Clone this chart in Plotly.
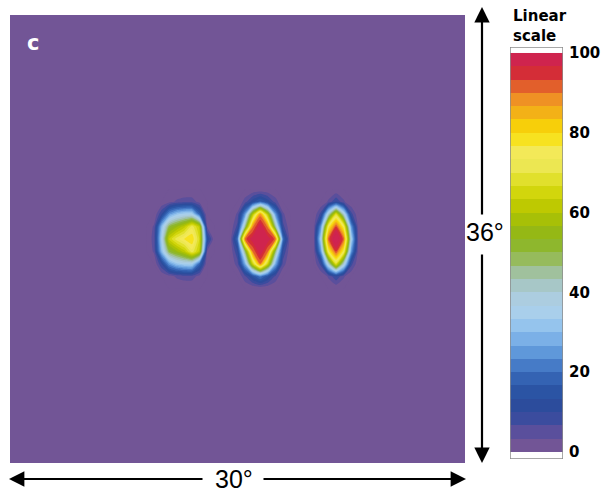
import numpy as np
import plotly.graph_objects as go

# ---------------- data ----------------
# sampling grid (degrees): 30 deg wide, 36 deg tall
x_step = 0.5
y_step = 1.0
x_span = 30
y_span = 36

# response patches (linear scale, 0-100), rows listed top -> bottom
# left stimulus: first column index 19 (x=9.5 deg), top row y=21 deg
left_col0, left_top = 19, 21
left_blob = [
    [0, 0, 2, 4, 5, 5, 2, 0],
    [0, 10, 25, 32, 35, 35, 18, 0],
    [4, 30, 50, 56, 62, 72, 62, 3],
    [5, 35, 64, 72, 77, 80, 66, 14],
    [4, 30, 50, 56, 62, 72, 62, 3],
    [0, 10, 25, 32, 35, 35, 18, 0],
    [0, 0, 2, 4, 5, 5, 2, 0],
]
# middle stimulus: first column index 29 (x=14.5 deg), top row y=22 deg
mid_col0, mid_top = 29, 22
mid_blob = [
    [0, 0, 0, 0, 0, 0, 0, 0, 0],
    [0, 0, 5, 12, 18, 12, 5, 0, 0],
    [0, 4, 25, 60, 88, 60, 25, 4, 0],
    [0, 8, 45, 89, 100, 89, 45, 8, 0],
    [0, 20, 92, 99, 100, 99, 92, 20, 0],
    [0, 10, 48, 90, 100, 90, 48, 10, 0],
    [0, 5, 28, 64, 90, 64, 28, 5, 0],
    [0, 0, 6, 14, 22, 14, 6, 0, 0],
    [0, 0, 0, 0, 0, 0, 0, 0, 0],
]
# right stimulus: first column index 40 (x=20 deg), top row y=22 deg
right_col0, right_top = 40, 22
right_blob = [
    [0, 0, 0, 0, 0, 0, 0],
    [0, 0, 4, 10, 4, 0, 0],
    [0, 8, 40, 68, 40, 8, 0],
    [0, 25, 75, 94, 75, 25, 0],
    [0, 35, 92, 104, 92, 35, 0],
    [0, 25, 75, 94, 75, 25, 0],
    [0, 8, 40, 68, 40, 8, 0],
    [0, 0, 4, 10, 4, 0, 0],
    [0, 0, 0, 0, 0, 0, 0],
]

scale_ticks = [0, 20, 40, 60, 80, 100]
n_bands = 30
level_min, level_max = 0, 100

# colour scale: (value on linear scale, colour)
scale_stops = [
    (0, '#725596'), (2, '#725596'), (5, '#5a4f9c'), (8, '#3d4c9e'),
    (12, '#2a4c9c'), (16, '#2b56a6'), (20, '#3a6cbc'), (24, '#5790d6'),
    (28, '#78aee6'), (32, '#98c6ee'), (36, '#aed2ea'), (40, '#abcad8'),
    (44, '#a2c3b0'), (47, '#9cbe78'), (50, '#8eb83a'), (54, '#8fb51a'),
    (58, '#a5bf08'), (62, '#c0ca00'), (66, '#d8da10'), (70, '#e8e440'),
    (74, '#f2ea6a'), (77, '#f6e634'), (80, '#f8dc08'), (83, '#f6c40c'),
    (86, '#f2a81c'), (89, '#ee8a26'), (92, '#e05a2c'), (94.5, '#d6302e'),
    (96, '#d02648'), (100, '#cf2352'),
]

# ---------------- build ----------------
xs = np.arange(0, x_span + 1e-9, x_step)
ys = np.arange(0, y_span + 1e-9, y_step)
z = np.zeros((len(ys), len(xs)))
for patch, c0, top in [(left_blob, left_col0, left_top),
                       (mid_blob, mid_col0, mid_top),
                       (right_blob, right_col0, right_top)]:
    for r, row in enumerate(patch):
        z[top - r, c0:c0 + len(row)] = row

band = (level_max - level_min) / n_bands
lo = level_min - band / 2
hi = level_max + band / 2
colorscale = [[0.0, scale_stops[0][1]]]
for v, c in scale_stops:
    colorscale.append([(v - lo) / (hi - lo), c])
colorscale.append([1.0, scale_stops[-1][1]])

band_centres = [level_min + band * (i + 0.5) for i in range(n_bands)]

W, H = 607, 493
ml, mr, mt, mb = 10, 40, 15, 30
pw, ph = W - ml - mr, H - mt - mb


def px(xp):
    return (xp - ml) / pw


def py(yp):
    return (H - mb - yp) / ph


fig = go.Figure()
fig.add_trace(go.Contour(
    x=xs, y=ys, z=z,
    autocontour=False,
    contours=dict(start=level_min, end=level_max, size=band,
                  coloring='fill', showlines=False),
    line=dict(width=0, smoothing=0.5),
    colorscale=colorscale, showscale=False,
    xaxis='x', yaxis='y', hoverinfo='skip',
))
fig.add_trace(go.Heatmap(
    x=[0.5], y=band_centres, z=[[v] for v in band_centres],
    zmin=lo, zmax=hi, colorscale=colorscale, showscale=False,
    xaxis='x2', yaxis='y2', hoverinfo='skip',
))

fig.update_layout(
    width=W, height=H, autosize=False,
    margin=dict(l=ml, r=mr, t=mt, b=mb),
    paper_bgcolor='white', plot_bgcolor='white',
    showlegend=False,
    xaxis=dict(domain=[0, 455 / pw], range=[0, x_span], visible=False),
    yaxis=dict(domain=[0, 1], range=[0, y_span], visible=False),
    xaxis2=dict(domain=[px(510), px(563)], range=[0, 1], visible=False,
                anchor='y2'),
    yaxis2=dict(domain=[py(459), py(47)], range=[-1.75, 101.5],
                anchor='x2', side='right', tickvals=scale_ticks,
                ticks='', showgrid=False, zeroline=False, showline=False,
                ticklabelstandoff=5, automargin=False,
                tickfont=dict(family='DejaVu Sans', size=15, color='black',
                              weight='bold')),
)

fig.add_shape(type='rect', xref='x2', yref='y2', x0=0, x1=1,
              y0=-1.75, y1=101.5, line=dict(color='#8c8c8c', width=1.5))

ann = []
ann.append(dict(text='<b>c</b>', x=px(33), y=py(43), xref='paper', yref='paper',
                xanchor='center', yanchor='middle',
                showarrow=False, font=dict(family='DejaVu Sans', size=21,
                                           color='white')))
ann.append(dict(text='<b>Linear<br>scale</b>', x=px(511), y=py(47),
                xref='paper', yref='paper', xanchor='left', yanchor='bottom',
                align='left', showarrow=False,
                font=dict(family='DejaVu Sans', size=15, color='black')))
ann.append(dict(text='30°', x=px(234), y=py(479), xref='paper', yref='paper',
                xanchor='center', yanchor='middle',
                showarrow=False, font=dict(family='Liberation Sans', size=25,
                                           color='black')))
ann.append(dict(text='36°', x=px(485), y=py(232), xref='paper', yref='paper',
                xanchor='center', yanchor='middle',
                showarrow=False, font=dict(family='Liberation Sans', size=25,
                                           color='black')))
for tip, tail in [((9, 479), (204, 479)), ((466, 479), (262, 479)),
                  ((482, 7), (482, 216)), ((482, 463), (482, 253))]:
    ann.append(dict(text='', x=px(tip[0]), y=py(tip[1]), xref='paper',
                    yref='paper', ax=tail[0] - tip[0], ay=tail[1] - tip[1],
                    showarrow=True, arrowhead=2, arrowsize=1.4,
                    arrowwidth=2.2, arrowcolor='black', standoff=0))
fig.update_layout(annotations=ann)

fig.write_html('out.html')
